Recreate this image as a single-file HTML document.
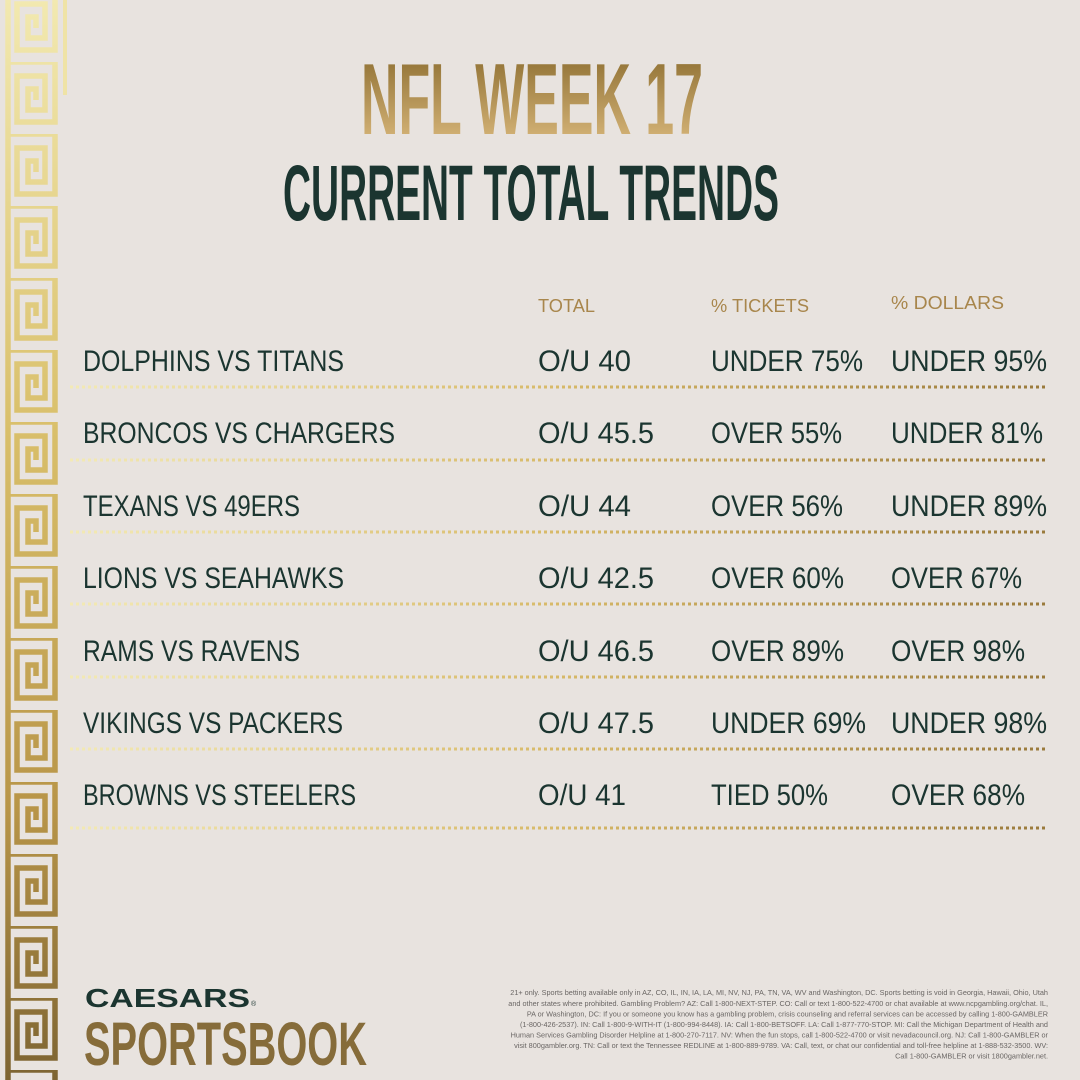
<!DOCTYPE html>
<html><head><meta charset="utf-8"><style>
html,body{margin:0;padding:0;background:#e8e3df;}
svg{display:block}
</style></head><body>
<svg width="1080" height="1080" viewBox="0 0 1080 1080" xmlns="http://www.w3.org/2000/svg">
<defs>
<linearGradient id="kg" x1="0" y1="0" x2="0" y2="1080" gradientUnits="userSpaceOnUse">
<stop offset="0" stop-color="#f2e9b0"/><stop offset="0.4" stop-color="#d9bf6a"/><stop offset="0.75" stop-color="#b89548"/><stop offset="1" stop-color="#7d6432"/>
</linearGradient>
<linearGradient id="tg" x1="0" y1="61" x2="0" y2="134" gradientUnits="userSpaceOnUse">
<stop offset="0" stop-color="#957639"/><stop offset="1" stop-color="#cfae72"/>
</linearGradient>
<linearGradient id="dg" x1="70" y1="0" x2="1048" y2="0" gradientUnits="userSpaceOnUse">
<stop offset="0" stop-color="#f3eab5"/><stop offset="0.5" stop-color="#d7b968"/><stop offset="1" stop-color="#9a7a3c"/>
</linearGradient>
<pattern id="key" x="0" y="-10" width="80" height="72" patternUnits="userSpaceOnUse">
<path d="M8 72 L8 0 L55 0 L55 60 L17 60 L17 14 L45 14 L45 48 L28 48 L28 27 L36 27 L36 38" fill="none" stroke="#fff" stroke-width="5.5"/>
</pattern>
<mask id="km" maskUnits="userSpaceOnUse" x="0" y="0" width="80" height="1080"><rect x="0" y="0" width="80" height="1080" fill="url(#key)"/></mask>
</defs>
<rect width="1080" height="1080" fill="#e8e3df"/>
<rect x="0" y="0" width="70" height="1080" fill="url(#kg)" mask="url(#km)"/>
<rect x="63" y="0" width="4" height="95" fill="#efe3a6"/>

<text x="361" y="134" textLength="342" lengthAdjust="spacingAndGlyphs" font-family="'Liberation Sans Narrow','Liberation Sans',sans-serif" font-weight="bold" font-size="101" fill="url(#tg)">NFL WEEK 17</text>
<text x="283" y="220" textLength="496" lengthAdjust="spacingAndGlyphs" font-family="'Liberation Sans Narrow','Liberation Sans',sans-serif" font-weight="bold" font-size="79" fill="#1b3530">CURRENT TOTAL TRENDS</text>

<g font-family="'Liberation Sans',sans-serif" font-size="18" fill="#a8864c">
<text x="538" y="312" textLength="57" lengthAdjust="spacingAndGlyphs">TOTAL</text>
<text x="711" y="312" textLength="98" lengthAdjust="spacingAndGlyphs">% TICKETS</text>
<text x="891" y="309" textLength="113" lengthAdjust="spacingAndGlyphs">% DOLLARS</text>
</g>

<g font-family="'Liberation Sans',sans-serif" font-size="30" fill="#1b3530">
<text x="83" y="371" textLength="261" lengthAdjust="spacingAndGlyphs">DOLPHINS VS TITANS</text>
<text x="538" y="371" textLength="93" lengthAdjust="spacingAndGlyphs">O/U 40</text>
<text x="711" y="371" textLength="152" lengthAdjust="spacingAndGlyphs">UNDER 75%</text>
<text x="891" y="371" textLength="156" lengthAdjust="spacingAndGlyphs">UNDER 95%</text>

<text x="83" y="443" textLength="312" lengthAdjust="spacingAndGlyphs">BRONCOS VS CHARGERS</text>
<text x="538" y="443" textLength="116" lengthAdjust="spacingAndGlyphs">O/U 45.5</text>
<text x="711" y="443" textLength="131" lengthAdjust="spacingAndGlyphs">OVER 55%</text>
<text x="891" y="443" textLength="152" lengthAdjust="spacingAndGlyphs">UNDER 81%</text>

<text x="83" y="516" textLength="217" lengthAdjust="spacingAndGlyphs">TEXANS VS 49ERS</text>
<text x="538" y="516" textLength="93" lengthAdjust="spacingAndGlyphs">O/U 44</text>
<text x="711" y="516" textLength="132" lengthAdjust="spacingAndGlyphs">OVER 56%</text>
<text x="891" y="516" textLength="156" lengthAdjust="spacingAndGlyphs">UNDER 89%</text>

<text x="83" y="588" textLength="261" lengthAdjust="spacingAndGlyphs">LIONS VS SEAHAWKS</text>
<text x="538" y="588" textLength="116" lengthAdjust="spacingAndGlyphs">O/U 42.5</text>
<text x="711" y="588" textLength="133" lengthAdjust="spacingAndGlyphs">OVER 60%</text>
<text x="891" y="588" textLength="131" lengthAdjust="spacingAndGlyphs">OVER 67%</text>

<text x="83" y="661" textLength="217" lengthAdjust="spacingAndGlyphs">RAMS VS RAVENS</text>
<text x="538" y="661" textLength="116" lengthAdjust="spacingAndGlyphs">O/U 46.5</text>
<text x="711" y="661" textLength="133" lengthAdjust="spacingAndGlyphs">OVER 89%</text>
<text x="891" y="661" textLength="134" lengthAdjust="spacingAndGlyphs">OVER 98%</text>

<text x="83" y="733" textLength="260" lengthAdjust="spacingAndGlyphs">VIKINGS VS PACKERS</text>
<text x="538" y="733" textLength="116" lengthAdjust="spacingAndGlyphs">O/U 47.5</text>
<text x="711" y="733" textLength="155" lengthAdjust="spacingAndGlyphs">UNDER 69%</text>
<text x="891" y="733" textLength="156" lengthAdjust="spacingAndGlyphs">UNDER 98%</text>

<text x="83" y="805" textLength="273" lengthAdjust="spacingAndGlyphs">BROWNS VS STEELERS</text>
<text x="538" y="805" textLength="88" lengthAdjust="spacingAndGlyphs">O/U 41</text>
<text x="711" y="805" textLength="117" lengthAdjust="spacingAndGlyphs">TIED 50%</text>
<text x="891" y="805" textLength="134" lengthAdjust="spacingAndGlyphs">OVER 68%</text>
</g>

<g stroke="url(#dg)" stroke-width="3" stroke-dasharray="3 3">
<line x1="70" y1="387" x2="1048" y2="387"/>
<line x1="70" y1="460" x2="1048" y2="460"/>
<line x1="70" y1="532" x2="1048" y2="532"/>
<line x1="70" y1="604" x2="1048" y2="604"/>
<line x1="70" y1="677" x2="1048" y2="677"/>
<line x1="70" y1="749" x2="1048" y2="749"/>
<line x1="70" y1="828" x2="1048" y2="828"/>
</g>

<text x="85" y="1007" textLength="165" lengthAdjust="spacingAndGlyphs" font-family="'Liberation Sans',sans-serif" font-weight="bold" font-size="26" fill="#1b3530">CAESARS</text>
<text x="251" y="1006" font-family="'Liberation Sans',sans-serif" font-size="7" fill="#1b3530">®</text>
<text x="84" y="1065" textLength="283" lengthAdjust="spacingAndGlyphs" font-family="'Liberation Sans Narrow','Liberation Sans',sans-serif" font-weight="bold" font-size="61" fill="#866c3a">SPORTSBOOK</text>

<g font-family="'Liberation Sans',sans-serif" font-size="7.3" fill="#6a6664" text-anchor="end">
<text x="1048" y="995">21+ only. Sports betting available only in AZ, CO, IL, IN, IA, LA, MI, NV, NJ, PA, TN, VA, WV and Washington, DC. Sports betting is void in Georgia, Hawaii, Ohio, Utah</text>
<text x="1048" y="1006">and other states where prohibited. Gambling Problem? AZ: Call 1-800-NEXT-STEP. CO: Call or text 1-800-522-4700 or chat available at www.ncpgambling.org/chat. IL,</text>
<text x="1048" y="1016.5">PA or Washington, DC: If you or someone you know has a gambling problem, crisis counseling and referral services can be accessed by calling 1-800-GAMBLER</text>
<text x="1048" y="1027">(1-800-426-2537). IN: Call 1-800-9-WITH-IT (1-800-994-8448). IA: Call 1-800-BETSOFF. LA: Call 1-877-770-STOP. MI: Call the Michigan Department of Health and</text>
<text x="1048" y="1037.5">Human Services Gambling Disorder Helpline at 1-800-270-7117. NV: When the fun stops, call 1-800-522-4700 or visit nevadacouncil.org. NJ: Call 1-800-GAMBLER or</text>
<text x="1048" y="1048">visit 800gambler.org. TN: Call or text the Tennessee REDLINE at 1-800-889-9789. VA: Call, text, or chat our confidential and toll-free helpline at 1-888-532-3500. WV:</text>
<text x="1048" y="1058.5">Call 1-800-GAMBLER or visit 1800gambler.net.</text>
</g>
</svg>
</body></html>
